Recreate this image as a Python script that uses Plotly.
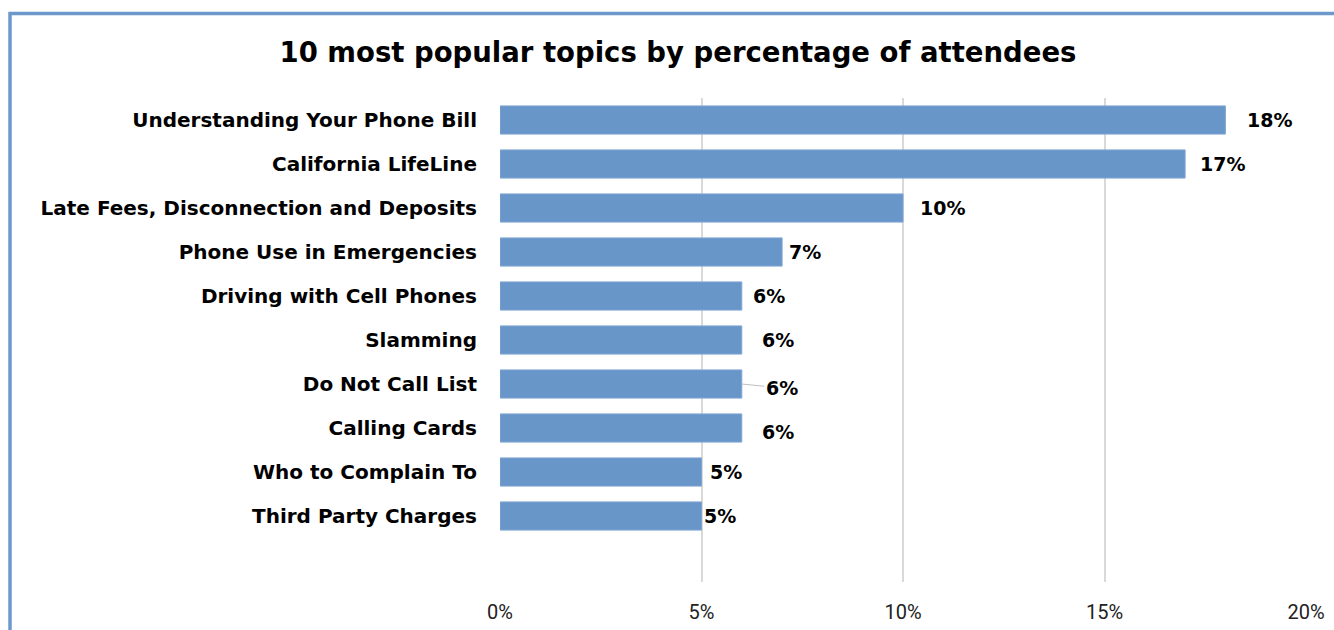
import plotly.graph_objects as go

categories = [
    "Understanding Your Phone Bill",
    "California LifeLine",
    "Late Fees, Disconnection and Deposits",
    "Phone Use in Emergencies",
    "Driving with Cell Phones",
    "Slamming",
    "Do Not Call List",
    "Calling Cards",
    "Who to Complain To",
    "Third Party Charges",
]
values = [18, 17, 10, 7, 6, 6, 6, 6, 5, 5]
value_labels = ["18%", "17%", "10%", "7%", "6%", "6%", "6%", "6%", "5%", "5%"]
tick_vals = [0, 5, 10, 15, 20]
tick_text = ["0%", "5%", "10%", "15%", "20%"]
title_text = "10 most popular topics by percentage of attendees"

# per-label horizontal offsets (pixels) mimicking the reference placement
label_shift = [20, 13, 15, 5, 9, 18, 24, 18, 6, 0]
label_yshift = [0, 0, 0, 0, 0, 0, -4, -4, 0, 0]

W, H = 1334, 630
L, R, T, B = 500, 28, 98, 48
pw, ph = W - L - R, H - T - B

BAR = "#6996C9"
FONT = "'DejaVu Sans', sans-serif"

fig = go.Figure()
fig.add_trace(go.Bar(
    x=values,
    y=list(range(len(categories))),
    orientation="h",
    width=0.64,
    marker=dict(color=BAR, line=dict(color="#7FA5D3", width=1)),
    hoverinfo="skip",
))

annotations = []
for i, (v, t) in enumerate(zip(values, value_labels)):
    if categories[i] == "Do Not Call List":
        annotations.append(dict(
            x=v, y=i, xref="x", yref="y", text=t,
            showarrow=True, arrowhead=0, arrowwidth=1, arrowcolor="#BFBFBF",
            ax=40, ay=4, standoff=0,
            font=dict(family=FONT, size=19, color="#000000", weight="bold"),
        ))
    else:
        annotations.append(dict(
            x=v, y=i, xref="x", yref="y", text=t,
            showarrow=False, xanchor="left", yanchor="middle",
            xshift=label_shift[i], yshift=label_yshift[i],
            font=dict(family=FONT, size=19, color="#000000", weight="bold"),
        ))

# border of chart frame (left and top lines visible)
bx0 = (10 - L) / pw
by1 = (H - B - 13.5) / ph

fig.update_layout(
    width=W, height=H,
    margin=dict(l=L, r=R, t=T, b=B),
    paper_bgcolor="white", plot_bgcolor="white",
    showlegend=False,
    title=dict(
        text="<b>" + title_text + "</b>",
        x=678 / W, xanchor="center", xref="container",
        y=1 - 52 / H, yanchor="middle",
        font=dict(family=FONT, size=27.5, color="#000000"),
    ),
    xaxis=dict(
        range=[0, 20], tickvals=tick_vals, ticktext=tick_text,
        showgrid=True, gridcolor="#D9D9D9", gridwidth=1.5,
        zeroline=False, showline=False, automargin=False,
        ticks="outside", ticklen=12, tickcolor="rgba(0,0,0,0)",
        tickfont=dict(family="'Liberation Sans Narrow', Roboto, sans-serif", size=20, color="#222222"),
        fixedrange=True,
    ),
    yaxis=dict(
        range=[10.5, -0.5],
        tickvals=list(range(len(categories))), ticktext=categories,
        showgrid=False, zeroline=False, showline=False, automargin=False,
        ticks="", ticklabelstandoff=22,
        tickfont=dict(family=FONT, size=20, color="#000000", weight="bold"),
        fixedrange=True,
    ),
    annotations=annotations,
    shapes=[dict(
        type="rect", xref="paper", yref="paper",
        x0=bx0, x1=1.5, y0=-0.5, y1=by1,
        line=dict(color="#6C98CC", width=3.5), fillcolor="rgba(0,0,0,0)",
        layer="below",
    )],
)

fig.write_html("out.html", config={"displayModeBar": False})
